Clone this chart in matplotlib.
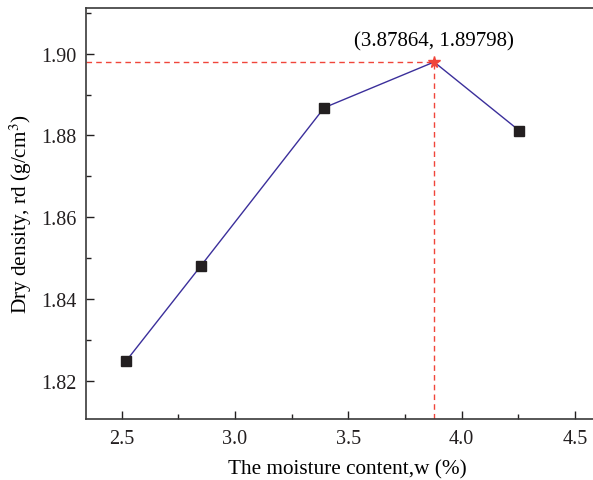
import numpy as np
import matplotlib
matplotlib.use("Agg")
import matplotlib.pyplot as plt
from matplotlib.ticker import MultipleLocator

# data
moisture = [2.52, 2.85, 3.394, 3.87864, 4.254]
density = [1.8248, 1.8481, 1.8868, 1.89798, 1.8812]
peak_x, peak_y = 3.87864, 1.89798

plt.rcParams['font.family'] = ['Liberation Serif', 'DejaVu Serif']
plt.rcParams['mathtext.fontset'] = 'stix'

fig = plt.figure(figsize=(5.93, 4.81), dpi=100)
ax = fig.add_axes([0.145, 0.1268, 0.88, 0.8545])

line_col = '#3b2f9b'
red = '#f0453a'

ax.plot(moisture, density, color=line_col, lw=1.0, zorder=2)
sq_x = [m for m in moisture if m != peak_x]
sq_y = [d for m, d in zip(moisture, density) if m != peak_x]
ax.plot(sq_x, sq_y, 's', color='#231f20', ms=7, zorder=3)
ax.plot([peak_x], [peak_y], '*', color=red, ms=8.5, zorder=4)

ax.set_xlim(2.343, 4.645)
ax.set_ylim(1.8106, 1.9112)

ax.plot([2.343, peak_x], [peak_y, peak_y], '--', color=red, lw=1.0, dashes=(4, 3), zorder=1)
ax.plot([peak_x, peak_x], [1.8106, peak_y], '--', color=red, lw=1.0, dashes=(4, 3), zorder=1)

ax.annotate("(%.5f, %.5f)" % (peak_x, peak_y), (peak_x, peak_y),
            xytext=(0, 8), textcoords='offset points', ha='center', va='bottom',
            fontsize=15)

ax.xaxis.set_major_locator(MultipleLocator(0.5))
ax.xaxis.set_minor_locator(MultipleLocator(0.25))
ax.yaxis.set_major_locator(MultipleLocator(0.02))
ax.yaxis.set_minor_locator(MultipleLocator(0.01))
ax.xaxis.set_major_formatter(matplotlib.ticker.FormatStrFormatter('%.1f'))
ax.yaxis.set_major_formatter(matplotlib.ticker.FormatStrFormatter('%.2f'))

ax.tick_params(which='both', direction='in', top=False, right=False,
               labelsize=14.5, colors='#231f20', width=1.0)
ax.tick_params(which='major', length=6, pad=7)
ax.tick_params(which='minor', length=3.5)
for s in ax.spines.values():
    s.set_linewidth(1.2)
    s.set_color('#3a3a3a')

ax.set_xlabel("The moisture content,w (%)", fontsize=15.3, labelpad=8)
ax.set_ylabel("Dry density, rd (g/cm$^3$)", fontsize=15.3, labelpad=5)

fig.savefig("out.png", dpi=100)
